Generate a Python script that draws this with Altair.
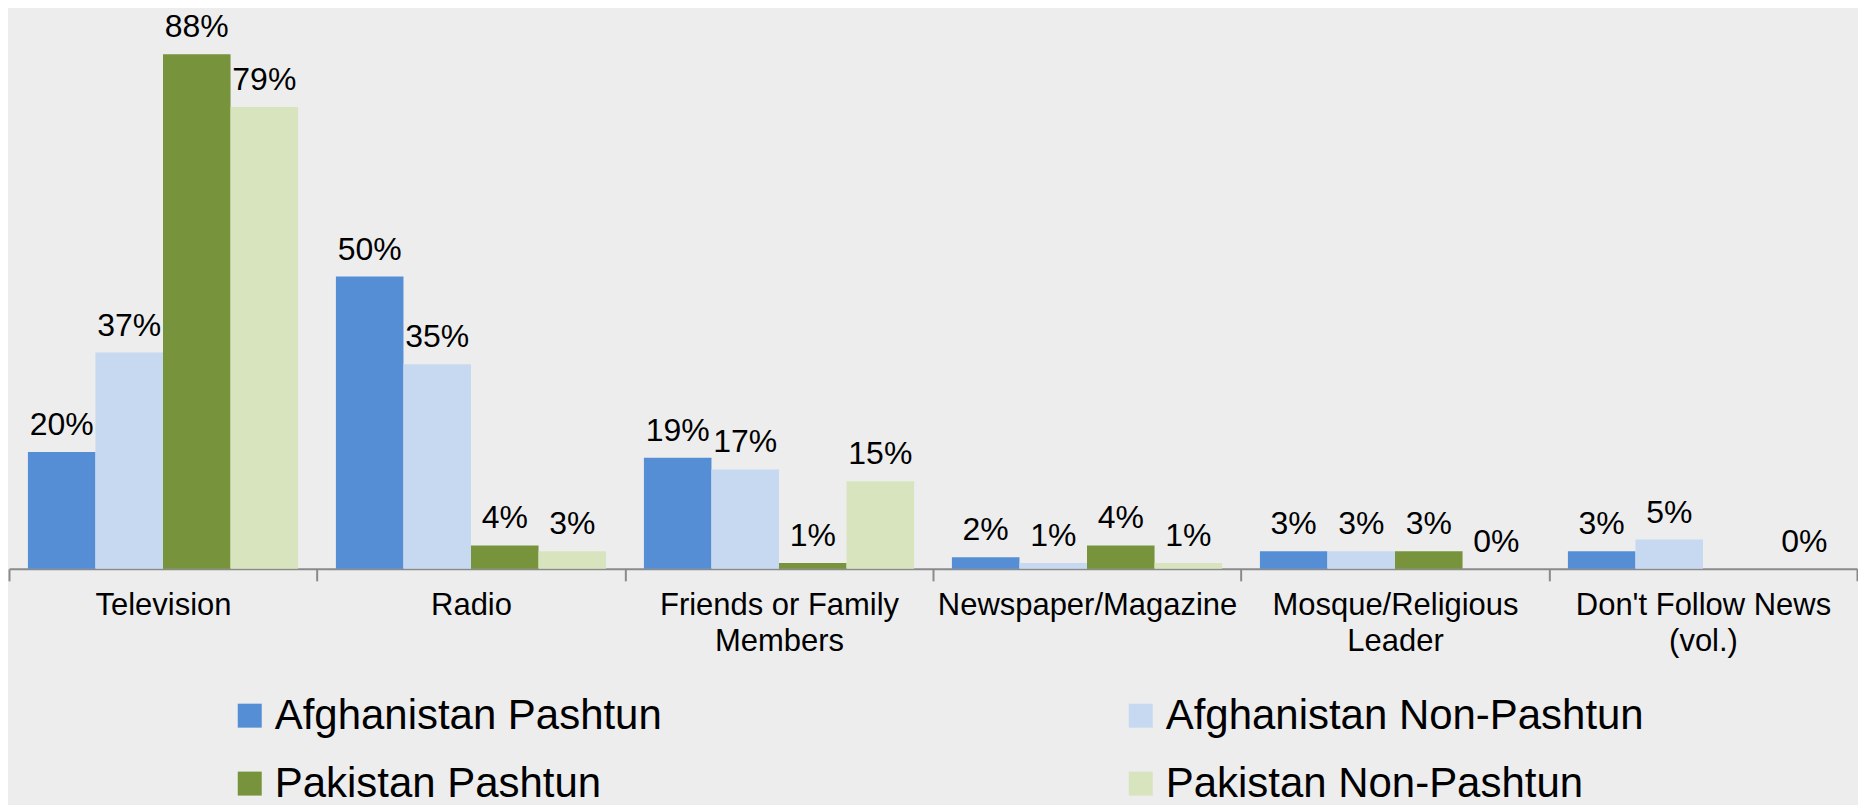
import altair as alt
import pandas as pd

categories = [
    "Television",
    "Radio",
    "Friends or Family|Members",
    "Newspaper/Magazine",
    "Mosque/Religious|Leader",
    "Don't Follow News|(vol.)",
]
series = [
    "Afghanistan Pashtun",
    "Afghanistan Non-Pashtun",
    "Pakistan Pashtun",
    "Pakistan Non-Pashtun",
]
afg_pashtun = [20, 50, 19, 2, 3, 3]
afg_non_pashtun = [37, 35, 17, 1, 3, 5]
pak_pashtun = [88, 4, 1, 4, 3, None]
pak_non_pashtun = [79, 3, 15, 1, 0, 0]
colors = ["#558ed5", "#c6d9f1", "#77933c", "#d7e4bd"]

rows = []
for s, vals in zip(series, [afg_pashtun, afg_non_pashtun, pak_pashtun, pak_non_pashtun]):
    for c, v in zip(categories, vals):
        if v is None:
            continue
        rows.append({"category": c, "series": s, "value": v, "label": f"{v}%"})
df = pd.DataFrame(rows)

FONT = "Liberation Sans"

x = alt.X(
    "category:N",
    sort=categories,
    scale=alt.Scale(paddingInner=0, paddingOuter=0),
    axis=alt.Axis(
        title=None,
        labelExpr="isValid(datum.value) ? split(datum.value, '|') : ''",
        labelAngle=0,
        tickBand="extent",
        labelFont=FONT,
        labelFontSize=31,
        labelColor="#000000",
        labelPadding=10,
        labelLineHeight=36,
        labelLimit=400,
        domainColor="#8a8a8a",
        domainWidth=2,
        tickColor="#8a8a8a",
        tickWidth=2,
        tickSize=12,
        grid=False,
    ),
)
xoff = alt.XOffset(
    "series:N",
    sort=series,
    scale=alt.Scale(paddingInner=0, paddingOuter=0.28),
)
y = alt.Y("value:Q", scale=alt.Scale(domain=[0, 95]), axis=None)

bars = alt.Chart(df).mark_bar().encode(
    x=x,
    xOffset=xoff,
    y=y,
    color=alt.Color(
        "series:N",
        sort=series,
        scale=alt.Scale(domain=series, range=colors),
        legend=alt.Legend(
            title=None,
            orient="none",
            legendX=220,
            legendY=682,
            columns=2,
            columnPadding=458,
            rowPadding=26,
            symbolType="square",
            symbolSize=576,
            symbolStrokeWidth=0,
            labelFont=FONT,
            labelFontSize=42,
            labelColor="#000000",
            labelOffset=4,
            labelLimit=700,
            padding=0,
            direction="horizontal",
        ),
    ),
)

labels = alt.Chart(df).mark_text(
    baseline="alphabetic", dy=-17, font=FONT, fontSize=32, color="#000000"
).encode(
    x=x,
    xOffset=xoff,
    y=y,
    text="label:N",
)

chart = (
    alt.layer(bars, labels)
    .properties(width=1850, height=556,
                padding={"top": 2, "left": 0, "right": 0, "bottom": 0},
                background="#ededee")
    .configure_view(stroke=None)
)

chart.save("out.html", embed_options={"renderer": "svg", "actions": False})
